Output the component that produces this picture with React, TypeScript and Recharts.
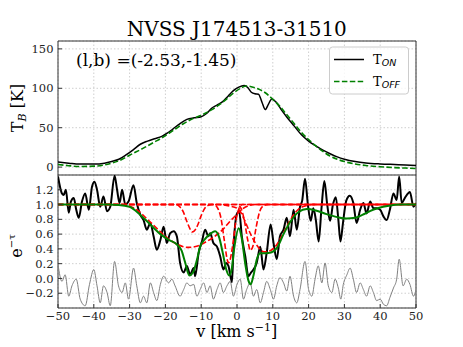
import React from 'react';
import { LineChart, Line, XAxis, YAxis, CartesianGrid, ReferenceArea } from 'recharts';

const SERIF = '"DejaVu Serif", serif';
const SANS = '"DejaVu Sans", sans-serif';

const X_TICKS = [-50, -40, -30, -20, -10, 0, 10, 20, 30, 40, 50];
const TB_TICKS = [0, 50, 100, 150];
const TAU_TICKS = [-0.2, 0, 0.2, 0.4, 0.6, 0.8, 1.0, 1.2];

const TITLE = 'NVSS J174513-31510';
const COORDS = '(l,b) =(-2.53,-1.45)';

// Top panel: brightness temperature (v [km/s], T_B [K])
const T_ON: [number, number][] = [
  [-50, 6.4], [-47, 5], [-44, 3.8], [-40, 3.8], [-37, 5], [-35, 7.2], [-33, 10], [-31, 15.5],
  [-29, 22], [-27, 29], [-25, 33], [-23, 36], [-21, 39], [-19.5, 43], [-18, 48], [-16, 55],
  [-14, 60.5], [-12, 62.5], [-10, 64], [-8.5, 68], [-7, 75], [-5.5, 79], [-4, 83], [-2.5, 90],
  [-1, 97], [0.5, 101.5], [2, 103.5], [3, 101], [4, 95], [5, 93], [6, 92.5], [7, 82], [7.9, 73],
  [8.8, 80], [9.7, 86.5], [11, 82], [12.5, 72], [14, 63], [16, 52], [18, 41], [20, 33], [22, 27],
  [24, 21.5], [26, 17], [28, 13], [30, 10], [33, 7], [36, 5.2], [40, 4], [44, 3.3], [47, 2.8], [50, 2.1],
];
const T_OFF: [number, number][] = [
  [-50, 3.4], [-47, 1.8], [-44, 0.8], [-40, 1.2], [-37, 2.8], [-35, 5], [-33, 8], [-31, 12.5],
  [-29, 17.5], [-27, 22], [-25, 27], [-23, 32], [-21, 37], [-19, 43], [-17, 49], [-15, 55],
  [-13, 60], [-11, 64], [-9, 68], [-7, 73], [-5, 79], [-3, 86], [-1, 94], [1, 100], [2.5, 103],
  [4, 102], [6, 99], [8, 94], [10, 86], [12, 77], [14, 66], [16, 55], [18, 44], [20, 35], [22, 27],
  [24, 20], [26, 14], [28, 10], [30, 7], [33, 4], [36, 2], [40, 0.5], [44, -0.6], [47, -1.2], [50, -1.7],
];

// Bottom panel: absorption spectrum e^-tau
const ABS: [number, number][] = [
  [-50, 1.38], [-48.9, 1.15], [-48.4, 1.13], [-47.8, 1.2], [-47.0, 0.89], [-46.4, 1.04], [-45.6, 1.09],
  [-44.9, 0.93], [-44.2, 0.82], [-43.3, 1.04], [-42.4, 1.15], [-41.4, 0.93], [-40.5, 1.24], [-39.8, 1.31],
  [-39.1, 1.2], [-38.2, 0.97], [-37.3, 1.11], [-36.3, 0.91], [-35.4, 0.97], [-34.2, 1.39], [-33.5, 1.2],
  [-32.8, 1.02], [-32.1, 1.2], [-31.2, 1.0], [-30.3, 1.04], [-28.9, 1.26], [-28.0, 1.02], [-27.0, 0.86],
  [-26.1, 0.79], [-25.2, 0.66], [-24.2, 0.75], [-23.3, 0.57], [-22.4, 0.39], [-21.4, 0.52], [-20.5, 0.7],
  [-19.6, 0.48], [-18.7, 0.61], [-17.7, 0.64], [-16.8, 0.57], [-15.9, 0.21], [-14.9, 0.08], [-14.0, 0.17],
  [-13.1, 0.05], [-12.1, 0.14], [-11.7, 0.03], [-10.7, 0.35], [-9.8, 0.5], [-8.9, 0.66], [-8.0, 0.57],
  [-7.5, 0.61], [-6.6, 0.48], [-5.6, 0.43], [-4.7, 0.3], [-3.8, 0.12], [-3.0, 0.21], [-2.4, 0.17],
  [-1.4, -0.05], [-1.0, 0.39], [0.0, 0.88], [0.6, 0.91], [1.35, 0.57], [2.3, 0.3], [3.2, 0.03], [3.9, 0.08],
  [4.6, 0.12], [5.5, 0.21], [6.5, 0.43], [7.4, 0.12], [8.3, 0.35], [9.4, 0.73], [10.2, 0.48], [11.1, 0.26],
  [12.0, 0.57], [13.0, 0.66], [13.9, 0.82], [14.8, 0.57], [15.8, 0.93], [16.7, 0.66], [17.6, 0.97],
  [18.2, 1.05], [19.0, 1.35], [19.8, 1.0], [20.6, 0.78], [21.3, 0.95], [22.0, 0.8], [22.8, 0.5], [23.6, 0.95],
  [24.4, 1.32], [25.2, 1.0], [26.0, 0.78], [26.8, 1.0], [27.6, 1.1], [28.3, 0.8], [28.9, 0.5], [29.6, 0.75],
  [30.5, 1.05], [31.5, 1.12], [32.5, 1.02], [33.4, 0.75], [34.4, 0.93], [35.3, 1.02], [36.2, 0.88],
  [37.2, 1.04], [38.1, 0.95], [39.0, 0.95], [40.0, 0.93], [40.9, 0.84], [41.8, 0.79], [42.7, 0.93],
  [43.7, 1.15], [44.6, 1.06], [45.3, 1.38], [46.0, 1.02], [46.9, 1.09], [48.3, 1.17], [49.3, 0.97], [50, 1.02],
];

const RESID: [number, number][] = [
  [-50, 0.19], [-48.9, -0.04], [-48.0, 0.05], [-47.0, -0.24], [-46.1, -0.1], [-44.9, -0.01], [-43.8, -0.28],
  [-42.4, -0.37], [-41.2, -0.08], [-40.0, 0.12], [-39.1, -0.1], [-38.2, -0.33], [-37.3, -0.1], [-36.3, -0.19],
  [-35.4, -0.37], [-34.2, 0.23], [-33.1, -0.1], [-32.1, -0.19], [-31.2, -0.06], [-30.3, -0.28], [-28.9, 0.14],
  [-28.0, -0.1], [-27.0, -0.33], [-26.1, -0.24], [-25.2, -0.33], [-24.2, -0.06], [-23.3, -0.19], [-22.4, -0.3],
  [-21.4, -0.08], [-20.5, 0.03], [-19.1, -0.06], [-18.2, -0.01], [-17.3, -0.1], [-15.9, -0.24], [-14.9, -0.15],
  [-14.0, -0.06], [-13.1, -0.1], [-12.1, -0.08], [-11.2, -0.24], [-10.3, -0.15], [-9.3, -0.06], [-8.4, -0.19],
  [-7.5, -0.1], [-6.6, -0.28], [-5.6, -0.15], [-4.7, -0.06], [-3.8, -0.19], [-2.8, -0.1], [-1.9, -0.04],
  [-1.0, -0.24], [0.0, -0.08], [0.9, -0.01], [1.8, -0.28], [2.7, -0.15], [3.7, -0.06], [4.6, -0.24],
  [5.5, -0.15], [6.5, -0.33], [7.4, -0.19], [8.3, -0.04], [9.3, -0.15], [10.2, -0.28], [11.1, -0.1],
  [12.0, 0.01], [13.0, -0.06], [13.9, -0.17], [14.8, 0.03], [15.8, -0.24], [16.7, -0.33], [17.6, -0.15],
  [19.0, 0.23], [20.0, -0.15], [20.9, -0.24], [21.8, -0.01], [22.7, 0.17], [23.7, -0.06], [24.6, 0.21],
  [25.5, -0.1], [26.5, -0.19], [27.4, -0.01], [28.3, -0.13], [29.0, -0.28], [29.7, -0.08], [30.7, 0.05],
  [31.6, 0.14], [32.5, -0.01], [33.4, -0.19], [34.4, -0.06], [35.3, -0.15], [36.2, -0.24], [37.2, -0.1],
  [38.1, -0.19], [39.0, -0.3], [40.0, -0.28], [40.9, -0.35], [41.8, -0.37], [42.7, -0.26], [43.7, -0.13],
  [44.6, -0.01], [45.3, 0.26], [46.4, -0.1], [47.4, -0.01], [48.3, -0.08], [49.3, -0.24], [50, -0.15],
];

const FIT: [number, number][] = [
  [-50, 1], [-40, 1], [-36, 1], [-33, 0.995], [-30, 0.97], [-27, 0.86], [-24, 0.72], [-21.4, 0.6],
  [-19, 0.52], [-16.8, 0.46], [-15.5, 0.38], [-14.5, 0.22], [-13.3, 0.04], [-12.3, 0.08], [-11.2, 0.25],
  [-10.3, 0.43], [-9, 0.53], [-8, 0.58], [-6.1, 0.64], [-5, 0.56], [-4, 0.35], [-3, 0.12], [-2.2, 0.04],
  [-1.5, 0.12], [-0.8, 0.4], [0.5, 0.68], [1.3, 0.55], [2.3, 0.2], [3.2, -0.03], [3.8, -0.08], [4.6, 0.04],
  [5.6, 0.27], [6.5, 0.34], [8.0, 0.34], [9.5, 0.35], [11.1, 0.41], [13, 0.6], [14.8, 0.76], [17.2, 0.9],
  [19.5, 0.94], [22, 0.92], [25, 0.87], [28, 0.83], [30.6, 0.81], [33, 0.82], [35, 0.86], [38, 0.93],
  [42, 0.98], [46, 1], [50, 1],
];

const COMP_A: [number, number][] = [
  [-50, 1], [-34, 1], [-31, 0.99], [-28, 0.93], [-25, 0.8], [-22, 0.66], [-19.5, 0.55], [-17, 0.47],
  [-15, 0.43], [-13.5, 0.42], [-11, 0.44], [-8.5, 0.5], [-6.5, 0.56], [-4, 0.66], [-2, 0.77], [0, 0.87],
  [1.5, 0.94], [3, 0.98], [5, 1], [50, 1],
];
const COMP_B: [number, number][] = [
  [-50, 1], [-17, 1], [-16, 0.97], [-15, 0.9], [-14, 0.77], [-13, 0.66], [-12.5, 0.63], [-12, 0.64],
  [-11, 0.72], [-10, 0.85], [-9, 0.95], [-8, 0.99], [-7, 1], [50, 1],
];
const COMP_C: [number, number][] = [
  [-50, 1], [-6.5, 1], [-5.5, 0.96], [-4.5, 0.82], [-3.5, 0.5], [-2.8, 0.27], [-2.4, 0.21], [-2, 0.24],
  [-1.2, 0.45], [-0.3, 0.78], [0.5, 0.94], [1.5, 1], [50, 1],
];
const COMP_D: [number, number][] = [
  [-50, 1], [0, 1], [1, 0.96], [2, 0.8], [3, 0.52], [3.7, 0.38], [4.4, 0.43], [5.3, 0.68], [6.3, 0.9],
  [7.3, 0.98], [8.5, 1], [50, 1],
];
const COMP_E: [number, number][] = [
  [-50, 1], [-5, 1], [-2, 0.98], [0, 0.95], [1, 0.9], [2, 0.8], [4, 0.58], [6, 0.42], [7.5, 0.36],
  [9, 0.37], [11, 0.45], [13, 0.62], [15, 0.8], [17, 0.93], [19, 0.98], [21, 1], [50, 1],
];
const COMPONENTS = [COMP_A, COMP_B, COMP_C, COMP_D, COMP_E];

const rows = (pts: [number, number][]) => pts.map(([v, y]) => ({ v, y }));
const fmtMinus = (s: string) => s.replace('-', '\u2212');
const fmtX = (v: number) => fmtMinus(String(v));
const fmtTau = (v: number) => fmtMinus(v.toFixed(1));

const tickStyle = { fontSize: 11.5, fill: '#222', fontFamily: SERIF };
const GRID = '#cfcfcf';
const FRAME = '#333';

export default function App() {
  return (
    <div style={{ position: 'absolute', left: 0, top: 0, width: 463, height: 347, background: '#fff', fontFamily: SERIF }}>
      <div style={{ position: 'absolute', left: 0, top: 0 }}>
        <LineChart width={463} height={175} margin={{ top: 41, right: 47, bottom: 0, left: 0 }}>
          <CartesianGrid stroke={GRID} strokeDasharray="1.5 2" />
          <XAxis
            dataKey="v" type="number" domain={[-50, 50]} ticks={X_TICKS} allowDataOverflow interval={0}
            height={0} tickSize={-4} tickFormatter={() => ''} axisLine={false}
            tickLine={{ stroke: FRAME }}
          />
          <YAxis
            type="number" domain={[-10, 160]} ticks={TB_TICKS} allowDataOverflow width={58} interval={0}
            tickSize={-4} tickMargin={8.5} axisLine={false} tick={tickStyle} tickLine={{ stroke: FRAME }}
          />
          <Line data={rows(T_ON)} dataKey="y" type="monotone" stroke="#000" strokeWidth={1.5} dot={false} isAnimationActive={false} />
          <Line data={rows(T_OFF)} dataKey="y" type="monotone" stroke="#008000" strokeWidth={1.6} strokeDasharray="5.5 2.4" dot={false} isAnimationActive={false} />
          <ReferenceArea x1={-50} x2={50} y1={-10} y2={160} fill="none" stroke={FRAME} strokeWidth={1} />
        </LineChart>
      </div>
      <div style={{ position: 'absolute', left: 0, top: 175 }}>
        <LineChart width={463} height={172} margin={{ top: 0, right: 47, bottom: 14, left: 0 }}>
          <CartesianGrid stroke={GRID} strokeDasharray="1.5 2" />
          <XAxis
            dataKey="v" type="number" domain={[-50, 50]} ticks={X_TICKS} allowDataOverflow interval={0}
            height={25} tickSize={-4} tickMargin={8} axisLine={false} tick={tickStyle}
            tickFormatter={fmtX} tickLine={{ stroke: FRAME }}
          />
          <YAxis
            type="number" domain={[-0.4, 1.4]} ticks={TAU_TICKS} allowDataOverflow width={58} interval={0}
            tickSize={-4} tickMargin={8.5} axisLine={false} tick={tickStyle} tickFormatter={fmtTau}
            tickLine={{ stroke: FRAME }}
          />
          <Line data={rows(RESID)} dataKey="y" type="monotone" stroke="#808080" strokeWidth={1} dot={false} isAnimationActive={false} />
          <Line data={rows(ABS)} dataKey="y" type="monotone" stroke="#000" strokeWidth={2} dot={false} isAnimationActive={false} />
          {COMPONENTS.map((c, i) => (
            <Line key={i} data={rows(c)} dataKey="y" type="monotone" stroke="#ff0000" strokeWidth={1.6} strokeDasharray="5.5 2.4" dot={false} isAnimationActive={false} />
          ))}
          <Line data={rows(FIT)} dataKey="y" type="monotone" stroke="#008000" strokeWidth={2} dot={false} isAnimationActive={false} />
          <ReferenceArea x1={-50} x2={50} y1={-0.4} y2={1.4} fill="none" stroke={FRAME} strokeWidth={1} />
        </LineChart>
      </div>
      <svg width={463} height={347} style={{ position: 'absolute', left: 0, top: 0, pointerEvents: 'none' }}>
        <text x={236.8} y={36} textAnchor="middle" fontSize={20} fontFamily={SERIF} fill="#000">{TITLE}</text>
        <text x={76} y={66} fontSize={17} fontFamily={SERIF} fill="#000">{COORDS}</text>
        <rect x={329.5} y={47} width={79} height={47} rx={3} fill="#fff" fillOpacity={0.8} stroke="#ccc" />
        <line x1={334} x2={364} y1={59.5} y2={59.5} stroke="#000" strokeWidth={1.5} />
        <text x={373} y={64} fontSize={13} fontFamily={SERIF} fill="#000">
          T<tspan fontSize={9.5} fontFamily={SANS} fontStyle="italic" dy={2}>ON</tspan>
        </text>
        <line x1={334} x2={364} y1={81.5} y2={81.5} stroke="#008000" strokeWidth={1.6} strokeDasharray="5.5 2.4" />
        <text x={373} y={86} fontSize={13} fontFamily={SERIF} fill="#000">
          T<tspan fontSize={9.5} fontFamily={SANS} fontStyle="italic" dy={2}>OFF</tspan>
        </text>
        <text transform="translate(23,108) rotate(-90)" textAnchor="middle" fontSize={16} fontFamily={SERIF} fill="#000">
          T<tspan fontSize={11} fontStyle="italic" dy={3}>B</tspan><tspan dy={-3}> [K]</tspan>
        </text>
        <text transform="translate(22,246) rotate(-90)" textAnchor="middle" fontSize={16} fontFamily={SERIF} fill="#000">
          e<tspan fontSize={10} dy={-7}>{'\u2212\u03c4'}</tspan>
        </text>
        <text x={236.8} y={337} textAnchor="middle" fontSize={16} fontFamily={SERIF} fill="#000">
          v [km s<tspan fontSize={11} dy={-6}>{'\u22121'}</tspan><tspan dy={6}>]</tspan>
        </text>
      </svg>
    </div>
  );
}
